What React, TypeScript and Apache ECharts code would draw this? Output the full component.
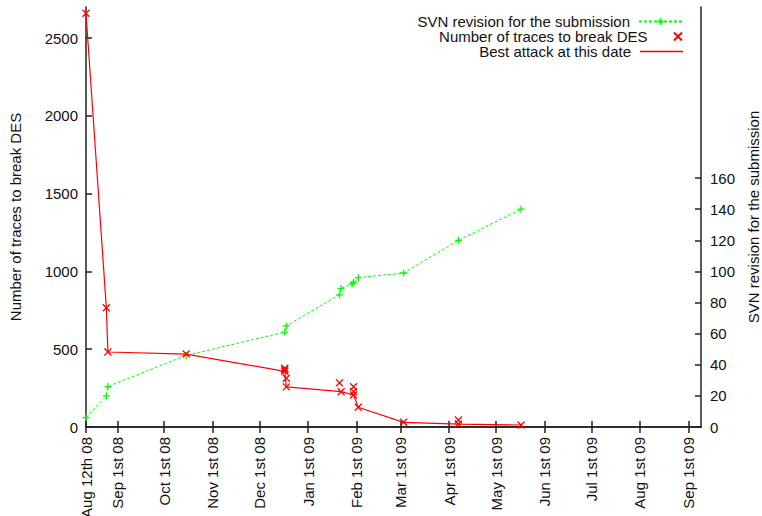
import React, { useEffect, useRef } from 'react';
import * as echarts from 'echarts';

// ---- data ----
const X_MIN = '2008-08-12';
const X_MAX = '2009-09-09';

const xTickDates = [
  '2008-08-12', '2008-09-01', '2008-10-01', '2008-11-01', '2008-12-01',
  '2009-01-01', '2009-02-01', '2009-03-01', '2009-04-01', '2009-05-01',
  '2009-06-01', '2009-07-01', '2009-08-01', '2009-09-01',
];
const xTickLabels = [
  'Aug 12th 08', 'Sep 1st 08', 'Oct 1st 08', 'Nov 1st 08', 'Dec 1st 08',
  'Jan 1st 09', 'Feb 1st 09', 'Mar 1st 09', 'Apr 1st 09', 'May 1st 09',
  'Jun 1st 09', 'Jul 1st 09', 'Aug 1st 09', 'Sep 1st 09',
];

const yTicks = [0, 500, 1000, 1500, 2000, 2500];
const y2Ticks = [0, 20, 40, 60, 80, 100, 120, 140, 160];

// SVN revision for the submission
const revDates = [
  '2008-08-12', '2008-08-25', '2008-08-26', '2008-10-15', '2008-12-17',
  '2008-12-18', '2009-01-21', '2009-01-22', '2009-01-29', '2009-01-30',
  '2009-02-02', '2009-03-03', '2009-04-07', '2009-05-17',
];
const revValues = [6, 20, 26, 46, 61, 65, 85, 89, 92, 93, 96, 99, 120, 140];

// Number of traces to break DES
const traceDates = [
  '2008-08-12', '2008-08-25', '2008-08-26', '2008-10-15',
  '2008-12-17', '2008-12-17', '2008-12-17', '2008-12-18', '2008-12-18',
  '2009-01-21', '2009-01-22', '2009-01-30', '2009-01-30', '2009-01-30',
  '2009-02-02', '2009-03-03', '2009-04-07', '2009-04-07', '2009-05-17',
];
const traceValues = [
  2660, 767, 482, 469,
  378, 368, 358, 313, 258,
  285, 227, 259, 227, 206,
  127, 30, 45, 19, 13,
];

// Best attack at this date
const bestDates = [
  '2008-08-12', '2008-08-25', '2008-08-26', '2008-10-15', '2008-12-17',
  '2008-12-18', '2009-01-22', '2009-01-30', '2009-02-02', '2009-03-03',
  '2009-04-07', '2009-05-17',
];
const bestValues = [2660, 767, 482, 469, 358, 258, 227, 206, 127, 30, 19, 13];

const ts = (d: string) => new Date(d + 'T00:00:00Z').getTime();

const PLUS = 'path://M5,0L5,10M0,5L10,5';
const CROSS = 'path://M0,0L10,10M10,0L0,10';

export default function App() {
  const ref = useRef<HTMLDivElement>(null);
  useEffect(() => {
    if (!ref.current) return;
    const chart = echarts.init(ref.current, null, { renderer: 'svg' });
    const tickTs = xTickDates.map(ts);
    const labelFor = (v: number) => {
      const i = tickTs.indexOf(v);
      return i >= 0 ? xTickLabels[i] : '';
    };
    const font = 'Liberation Sans, Arial, sans-serif';
    const axisColor = '#222';
    const legendBase = {
      orient: 'horizontal',
      right: 79,
      align: 'right',
      itemWidth: 43,
      itemHeight: 8,
      padding: 0,
      selectedMode: false,
      textStyle: { fontSize: 15, lineHeight: 14, color: '#111', fontFamily: font, padding: [0, 4, 0, 0] },
    };
    chart.setOption({
      animation: false,
      textStyle: { fontFamily: font },
      grid: {
        left: 86, right: 61, top: 7, bottom: 89,
        containLabel: false, outerBoundsMode: 'none',
      },
      legend: [
        { ...legendBase, top: 14, data: ['SVN revision for the submission'] },
        { ...legendBase, top: 29, data: ['Number of traces to break DES'] },
        { ...legendBase, top: 44, itemHeight: 1.5, data: [{ name: 'Best attack at this date', icon: 'rect' }] },
      ],
      xAxis: [
        {
          type: 'value',
          position: 'bottom',
          min: ts(X_MIN),
          max: ts(X_MAX),
          splitLine: { show: false },
          axisLine: { show: true, lineStyle: { color: axisColor, width: 1.5 } },
          axisTick: { show: true, inside: true, length: 6, customValues: tickTs, lineStyle: { color: axisColor, width: 1.5 } },
          axisLabel: {
            customValues: tickTs, rotate: 90, margin: 10, fontSize: 15, color: '#111',
            formatter: (v: number) => labelFor(v),
          },
        },
        {
          type: 'value',
          position: 'top',
          min: ts(X_MIN),
          max: ts(X_MAX),
          splitLine: { show: false },
          axisLine: { show: true, lineStyle: { color: axisColor, width: 1.5 } },
          axisTick: { show: true, inside: true, length: 6, customValues: tickTs, lineStyle: { color: axisColor, width: 1.5 } },
          axisLabel: { show: false },
        },
      ],
      yAxis: [
        {
          type: 'value',
          position: 'left',
          min: 0,
          max: 2700,
          name: 'Number of traces to break DES',
          nameLocation: 'middle',
          nameRotate: 90,
          nameGap: 63,
          nameTextStyle: { fontSize: 15, color: '#111' },
          splitLine: { show: false },
          axisLine: { show: true, lineStyle: { color: axisColor, width: 1.5 } },
          axisTick: { show: true, inside: true, length: 6, customValues: yTicks, lineStyle: { color: axisColor, width: 1.5 } },
          axisLabel: { customValues: yTicks, margin: 8, fontSize: 15, color: '#111', formatter: (v: number) => String(v) },
        },
        {
          type: 'value',
          position: 'right',
          min: 0,
          max: 270,
          name: 'SVN revision for the submission',
          nameLocation: 'middle',
          nameRotate: 90,
          nameGap: 45,
          nameTextStyle: { fontSize: 15, color: '#111' },
          splitLine: { show: false },
          axisLine: { show: true, lineStyle: { color: axisColor, width: 1.5 } },
          axisTick: { show: true, inside: true, length: 6, customValues: y2Ticks, lineStyle: { color: axisColor, width: 1.5 } },
          axisLabel: { customValues: y2Ticks, margin: 9, fontSize: 15, color: '#111', formatter: (v: number) => String(v) },
        },
      ],
      series: [
        {
          name: 'SVN revision for the submission',
          type: 'line',
          xAxisIndex: 0,
          yAxisIndex: 1,
          data: revDates.map((d, i) => [ts(d), revValues[i]]),
          symbol: PLUS,
          symbolSize: 7,
          showAllSymbol: true,
          lineStyle: { color: '#00ff00', width: 1, type: [3, 2] },
          itemStyle: { color: 'rgba(0,0,0,0)', borderColor: '#00ff00', borderWidth: 1.3 },
          z: 3,
        },
        {
          name: 'Number of traces to break DES',
          type: 'scatter',
          xAxisIndex: 0,
          yAxisIndex: 0,
          data: traceDates.map((d, i) => [ts(d), traceValues[i]]),
          symbol: CROSS,
          symbolSize: 7,
          itemStyle: { color: 'rgba(0,0,0,0)', borderColor: '#ff0000', borderWidth: 1.3, opacity: 1 },
          z: 4,
        },
        {
          name: 'Best attack at this date',
          type: 'line',
          xAxisIndex: 0,
          yAxisIndex: 0,
          data: bestDates.map((d, i) => [ts(d), bestValues[i]]),
          symbol: 'none',
          lineStyle: { color: '#ff0000', width: 1.2 },
          itemStyle: { color: '#ff0000' },
          z: 5,
        },
      ],
    });
    return () => chart.dispose();
  }, []);
  return <div ref={ref} style={{ width: 762, height: 516, position: 'absolute', left: 0, top: 0 }} />;
}
